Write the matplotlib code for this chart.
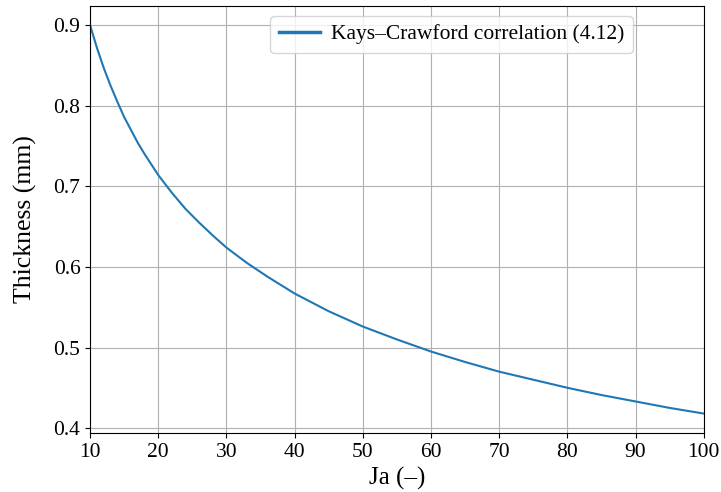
import matplotlib
matplotlib.use("Agg")
import matplotlib.pyplot as plt

ja = [10, 11, 12, 13, 14, 15, 16, 17, 18, 19, 20, 22, 24, 26, 28, 30, 33, 36, 40, 45, 50,
      55, 60, 65, 70, 75, 80, 85, 90, 95, 100]
thickness = [0.900, 0.872, 0.847, 0.825, 0.805, 0.786, 0.770, 0.754, 0.740, 0.727, 0.714,
             0.692, 0.672, 0.655, 0.639, 0.624, 0.605, 0.588, 0.567, 0.545, 0.526,
             0.510, 0.495, 0.482, 0.470, 0.460, 0.450, 0.441, 0.433, 0.425, 0.418]
series_label = "Kays–Crawford correlation (4.12)"

plt.rcParams['font.family'] = ['Liberation Serif', 'DejaVu Serif']

fig = plt.figure(figsize=(7.21, 4.92), dpi=100)
ax = fig.add_axes([0.125, 0.120, 0.851, 0.868])
ax.plot(ja, thickness, color='#1f77b4', lw=1.5, label=series_label)
ax.set_xlim(10, 100)
ax.set_xticks(range(10, 101, 10))
ax.set_yticks([0.4, 0.5, 0.6, 0.7, 0.8, 0.9])
ax.grid(True, color='#b0b0b0', lw=0.8)
ax.tick_params(labelsize=15.5)
ax.set_xlabel("Ja (–)", fontsize=18)
ax.set_ylabel("Thickness (mm)", fontsize=18.5, labelpad=12)
leg = ax.legend(loc='upper right', bbox_to_anchor=(0.884, 0.977), borderaxespad=0,
                fontsize=15.5, handletextpad=0.5, handlelength=1.9)
for h in leg.get_lines():
    h.set_linewidth(2.5)
fig.savefig("out.png", dpi=100)
